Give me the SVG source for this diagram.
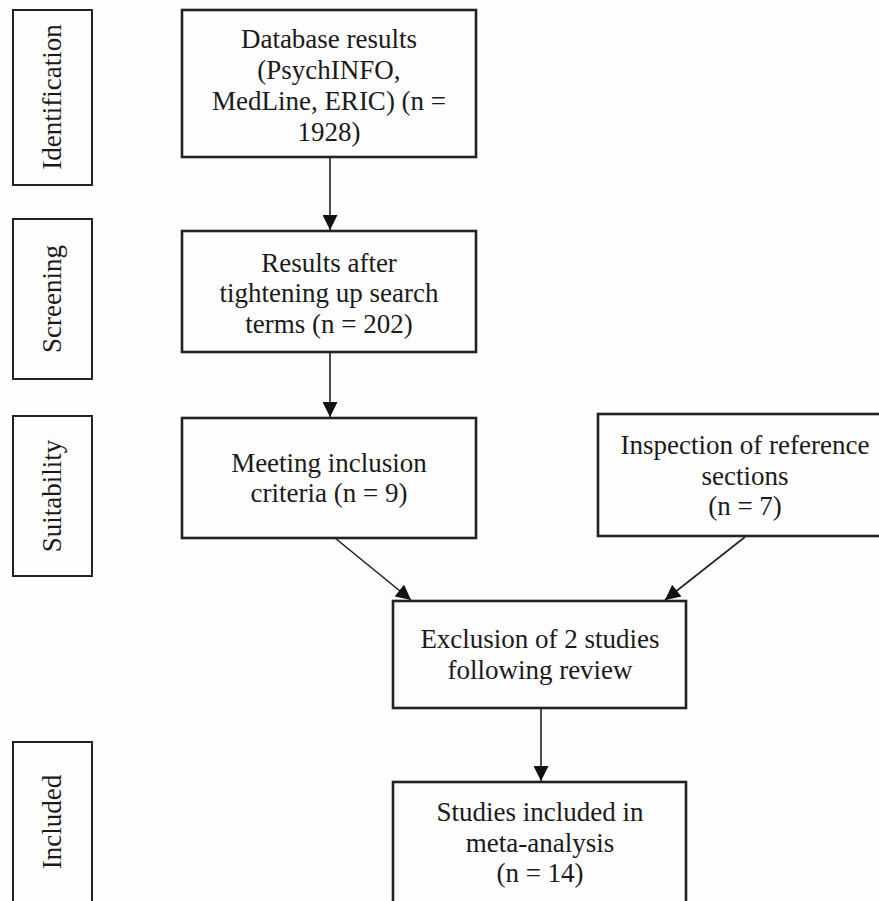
<svg xmlns="http://www.w3.org/2000/svg" width="879" height="901" viewBox="0 0 879 901">
<style>
.box{fill:none;stroke:#222;stroke-width:2.6}
.stage{fill:none;stroke:#222;stroke-width:2}
.t{font-family:"Liberation Serif","Times New Roman",serif;font-size:27px;fill:#1a1a1a;text-anchor:middle}
.conn{stroke:#222;stroke-width:1.6;fill:none}
</style>
<defs>
<marker id="ah" viewBox="0 0 10 10" refX="10" refY="5" markerUnits="userSpaceOnUse" markerWidth="16" markerHeight="15" orient="auto">
<path d="M0,0 L10,5 L0,10 Z" fill="#111"/>
</marker>
</defs>
<rect width="879" height="901" fill="#fdfdfd"/>
<g id="stage-identification"><rect class="stage" x="13" y="10" width="79" height="175"/><text class="t" transform="translate(61,97) rotate(-90)">Identification</text></g>
<g id="stage-screening"><rect class="stage" x="13" y="219" width="79" height="160"/><text class="t" transform="translate(61,299) rotate(-90)">Screening</text></g>
<g id="stage-suitability"><rect class="stage" x="13" y="416" width="79" height="160"/><text class="t" transform="translate(61,496) rotate(-90)">Suitability</text></g>
<g id="stage-included"><rect class="stage" x="13" y="742" width="79" height="170"/><text class="t" transform="translate(61,822) rotate(-90)">Included</text></g>
<g id="n-database"><rect class="box" x="182" y="10" width="294" height="147"/>
<text class="t" x="329" y="48">Database results</text><text class="t" x="329" y="79">(PsychINFO,</text><text class="t" x="329" y="110">MedLine, ERIC) (n =</text><text class="t" x="329" y="141">1928)</text></g>
<g id="n-results"><rect class="box" x="182" y="231" width="294" height="121"/>
<text class="t" x="329" y="272">Results after</text><text class="t" x="329" y="302">tightening up search</text><text class="t" x="329" y="333">terms (n = 202)</text></g>
<g id="n-meeting"><rect class="box" x="182" y="418" width="294" height="120"/>
<text class="t" x="329" y="472">Meeting inclusion</text><text class="t" x="329" y="502">criteria (n = 9)</text></g>
<g id="n-inspection"><rect class="box" x="598" y="414" width="295" height="122"/>
<text class="t" x="745" y="454">Inspection of reference</text><text class="t" x="745" y="485">sections</text><text class="t" x="745" y="515">(n = 7)</text></g>
<g id="n-exclusion"><rect class="box" x="393" y="601" width="293" height="107"/>
<text class="t" x="540" y="648">Exclusion of 2 studies</text><text class="t" x="540" y="679">following review</text></g>
<g id="n-studies"><rect class="box" x="393" y="782" width="293" height="130"/>
<text class="t" x="540" y="821">Studies included in</text><text class="t" x="540" y="852">meta-analysis</text><text class="t" x="540" y="882">(n = 14)</text></g>
<g id="connectors">
<line class="conn" x1="330" y1="157" x2="330" y2="230" marker-end="url(#ah)"/>
<line class="conn" x1="330" y1="352" x2="330" y2="417" marker-end="url(#ah)"/>
<line class="conn" x1="335" y1="538" x2="411" y2="600" marker-end="url(#ah)"/>
<line class="conn" x1="745" y1="537" x2="665" y2="600" marker-end="url(#ah)"/>
<line class="conn" x1="541" y1="708" x2="541" y2="781" marker-end="url(#ah)"/>
</g>
</svg>
